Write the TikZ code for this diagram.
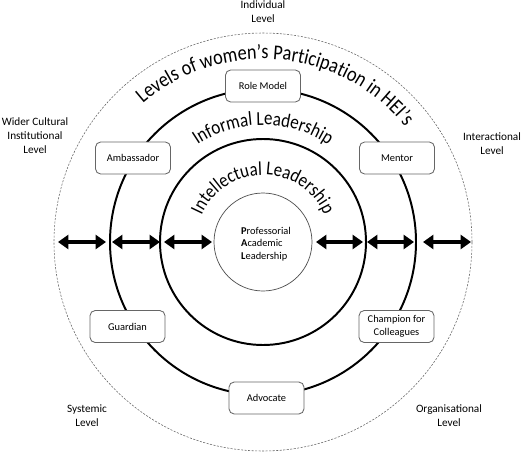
\documentclass[tikz,border=0pt]{standalone}
\usepackage{fontspec}
\setmainfont{Carlito}
\newfontfamily\arcfont[FakeStretch=0.86]{Carlito}
\usetikzlibrary{arrows.meta,decorations.text}

\tikzset{
  ring/.style={line width=1.4pt},
  rolebox/.style={draw=black!60, line width=0.6pt, fill=white, rounded corners=1.3mm,
    minimum width=18.75mm, minimum height=8mm, inner sep=1pt, align=center,
    font=\fontsize{7.4}{9.2}\selectfont},
  levellabel/.style={align=center, font=\fontsize{8}{10}\selectfont},
  ringarrow/.style={line width=1.1mm,
    {Triangle[length=2.6mm,width=3.5mm]}-{Triangle[length=2.6mm,width=3.5mm]}},
}

\begin{document}
\begin{tikzpicture}[x=0.25mm,y=0.25mm]
  \useasboundingbox (-263,-210) rectangle (267,242);

  %rings
  \draw[black!60,line width=0.4pt,dash pattern=on 1.5pt off 1pt] (0,0) circle (209);
  \draw[ring] (0,0) circle (153);
  \draw[ring] (0,0) circle (103);
  \draw[black!70,line width=0.5pt] (0,0) circle (49);

  %ring titles
  \path[decorate,decoration={text along path,text align=center,
    text={|\arcfont\fontsize{15.1}{15}\selectfont|Levels of women’s Participation in HEI’s}}]
    (175:183) arc[start angle=175,end angle=-5,radius=183];
  \path[decorate,decoration={text along path,text align=center,
    text={|\arcfont\fontsize{14.1}{14}\selectfont|Informal Leadership}}]
    (180:117) arc[start angle=180,end angle=0,radius=117];
  \path[decorate,decoration={text along path,text align=center,
    text={|\arcfont\fontsize{13.9}{14}\selectfont|Intellectual Leadership}}]
    (180:67) arc[start angle=180,end angle=0,radius=67];

  %centre
  \node[align=left,font=\fontsize{7.4}{9}\selectfont] (pal) at (3,-2)
    {\textbf{P}rofessorial\\\textbf{A}cademic\\\textbf{L}eadership};

  %roles
  \node[rolebox] (rolemodel) at (0,156) {Role Model};
  \node[rolebox] (ambassador) at (-130,84) {Ambassador};
  \node[rolebox] (mentor) at (134,84) {Mentor};
  \node[rolebox] (guardian) at (-135.5,-84.5) {Guardian};
  \node[rolebox] (champion) at (133.5,-84.5) {Champion for\\Colleagues};
  \node[rolebox] (advocate) at (3.5,-156) {Advocate};

  %levels
  \node[levellabel] (individual) at (0,230) {Individual\\Level};
  \node[levellabel] (wider) at (-228,106) {Wider Cultural\\Institutional\\Level};
  \node[levellabel] (interactional) at (229,98) {Interactional\\Level};
  \node[levellabel] (systemic) at (-176,-174) {Systemic\\Level};
  \node[levellabel] (organisational) at (186,-174) {Organisational\\Level};

  %arrows
  \coordinate (l1a) at (-205,0); \coordinate (l1b) at (-157,0);
  \coordinate (l2a) at (-151,0); \coordinate (l2b) at (-103,0);
  \coordinate (l3a) at (-99,0);  \coordinate (l3b) at (-51,0);
  \coordinate (r3a) at (53,0);   \coordinate (r3b) at (100,0);
  \coordinate (r2a) at (104,0);  \coordinate (r2b) at (151,0);
  \coordinate (r1a) at (160,0);  \coordinate (r1b) at (208,0);

  \draw[ringarrow] (l1a) -- (l1b);
  \draw[ringarrow] (l2a) -- (l2b);
  \draw[ringarrow] (l3a) -- (l3b);
  \draw[ringarrow] (r3a) -- (r3b);
  \draw[ringarrow] (r2a) -- (r2b);
  \draw[ringarrow] (r1a) -- (r1b);

\end{tikzpicture}
\end{document}
